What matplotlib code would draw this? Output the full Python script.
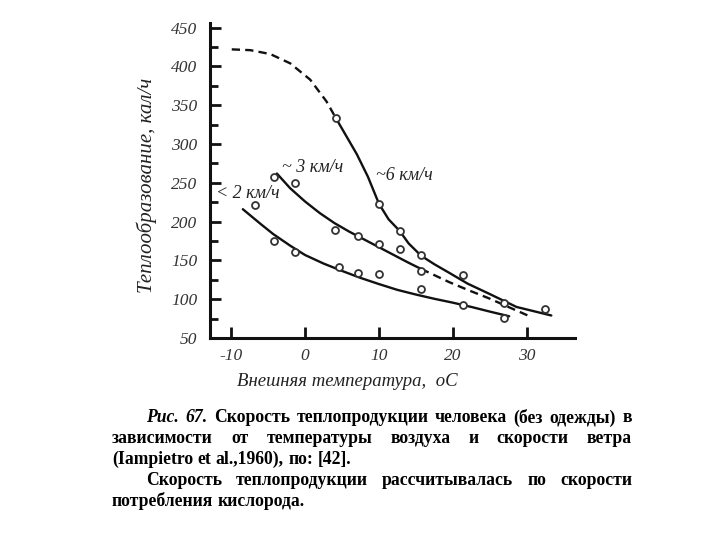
import matplotlib
matplotlib.use('Agg')
import matplotlib.pyplot as plt
from matplotlib.ticker import MultipleLocator

plt.rcParams['axes.unicode_minus'] = False

# ---------------- data ----------------
# measured points (open circles)
pts_x = [-6.8, -4.2, -4.2, -1.3, -1.3, 4.1, 4.6, 7.1, 7.1, 10.0, 10.0, 10.0,
         12.8, 12.8, 15.7, 15.7, 15.7, 21.3, 21.4, 26.9, 26.9, 32.4, 4.2]
pts_y = [222, 257, 175, 250, 161, 189, 142, 181, 134, 223, 171, 132,
         188, 165, 157, 136, 113, 131, 93, 95, 76, 87, 333]

# curve "< 2 км/ч" (solid)
c2_x = [-8.4, -6, -4.3, -2, 0, 2.5, 5, 7.5, 10, 12.5, 15, 17.5, 20, 22.5, 25, 27.6]
c2_y = [216, 197, 184, 169, 157, 146, 136.5, 127.5, 119.5, 112, 106, 100.5, 95.5, 90, 84, 78]

# curve "~ 3 км/ч" (solid part, then dashed part)
c3s_x = [-3.8, -2, 0, 2, 4, 6, 8, 10, 12, 14, 15.7]
c3s_y = [262, 243, 226, 211, 198, 187, 177, 167, 157, 147, 139]
c3d_x = [15.7, 19.5, 22, 24.9, 27.5, 30.6]
c3d_y = [139, 122, 112, 101, 90, 77]

# curve "~6 км/ч" (dashed part, then solid part)
c6d_x = [-9.9, -7.4, -4.7, -2.0, 0.7, 2.9, 4.2]
c6d_y = [422, 421, 416, 404, 383, 355, 333]
c6s_x = [4.2, 5.6, 7, 8.5, 10, 11.3, 12.8, 14, 15.7, 17.5, 19.5, 22, 24.9, 28.6, 33.3]
c6s_y = [333, 310, 287, 258, 223, 203, 188, 172, 156, 145, 134, 120, 107, 90, 79]

series_labels = ['< 2 км/ч', '~ 3 км/ч', '~6 км/ч']
label_pos_x = [-12.0, -3.1, 9.6]
label_pos_y = [236, 270, 260]

x_ticks = [-10, 0, 10, 20, 30]
y_ticks = [50, 100, 150, 200, 250, 300, 350, 400, 450]

x_label = 'Внешняя температура,  оС'
y_label = 'Теплообразование, кал/ч'

caption_lines = [
    [('Рис.', True), ('67.', True), ('Скорость', False), ('теплопродукции', False),
     ('человека', False), ('(без', False), ('одежды)', False), ('в', False)],
    [('зависимости', False), ('от', False), ('температуры', False), ('воздуха', False),
     ('и', False), ('скорости', False), ('ветра', False)],
    [('(Iampietro', False), ('et', False), ('al.,1960),', False), ('по:', False), ('[42].', False)],
    [('Скорость', False), ('теплопродукции', False), ('рассчитывалась', False),
     ('по', False), ('скорости', False)],
    [('потребления', False), ('кислорода.', False)],
]

# ---------------- drawing ----------------
W, H = 720, 540
fig = plt.figure(figsize=(W / 100, H / 100), dpi=100)
fig.patch.set_facecolor('white')

ax_left, ax_right, ax_bottom, ax_top = 210, 575, 338, 23
ax = fig.add_axes([ax_left / W, 1 - ax_bottom / H,
                   (ax_right - ax_left) / W, (ax_bottom - ax_top) / H])
ax.set_xlim(-12.84, 36.5)
ax.set_ylim(50, 456)

ink = '#111111'
lw = 1.7
ax.plot(c2_x, c2_y, color=ink, lw=lw, solid_capstyle='round')
ax.plot(c3s_x, c3s_y, color=ink, lw=lw, solid_capstyle='round')
ax.plot(c3d_x, c3d_y, color=ink, lw=lw, linestyle=(0, (3.5, 2.2)))
ax.plot(c6d_x, c6d_y, color=ink, lw=lw, linestyle=(0, (3.5, 2.2)))
ax.plot(c6s_x, c6s_y, color=ink, lw=lw, solid_capstyle='round')
ax.plot(pts_x, pts_y, linestyle='none', marker='o', markersize=5,
        markerfacecolor='white', markeredgecolor='#333333', markeredgewidth=1.3,
        zorder=5)

serif = 'Liberation Serif'
for lab, lx, ly in zip(series_labels, label_pos_x, label_pos_y):
    ax.text(lx, ly, lab, fontsize=13, fontfamily=serif, fontstyle='italic',
            color='#222222', ha='left', va='center')

for side in ['top', 'right']:
    ax.spines[side].set_visible(False)
for side in ['left', 'bottom']:
    ax.spines[side].set_linewidth(2.2)
    ax.spines[side].set_color(ink)

ax.set_xticks(x_ticks)
ax.set_yticks(y_ticks)
ax.yaxis.set_minor_locator(MultipleLocator(25))
ax.tick_params(axis='both', which='major', direction='in', length=8, width=2,
               color=ink, labelsize=12.5, labelcolor='#333333', pad=7)
ax.tick_params(axis='y', which='minor', direction='in', length=6, width=2, color=ink)
ax.tick_params(axis='y', which='major', pad=9)
for t in ax.get_xticklabels() + ax.get_yticklabels():
    t.set_fontfamily(serif)
    t.set_fontstyle('italic')

fig.text(347 / W, 1 - 382 / H, x_label, fontsize=13.5, fontfamily=serif,
         fontstyle='italic', color='#222222', ha='center', va='center')
fig.text(147 / W, 1 - 185 / H, y_label, fontsize=15, fontfamily=serif,
         fontstyle='italic', color='#222222', ha='center', va='center',
         rotation=90)

# ---------------- justified caption ----------------
cap_size = 12.7
renderer = fig.canvas.get_renderer()
left_px, right_px, indent_px = 112, 632, 146
baselines = [422.5, 443, 464, 485, 505.5]
justify = [True, True, False, True, False]
indented = [True, False, False, True, False]
space_px = cap_size * 100 / 72 * 0.25

for words, base, just, ind in zip(caption_lines, baselines, justify, indented):
    objs = []
    for w, it in words:
        t = fig.text(0, 1 - base / H, w, fontsize=cap_size, fontfamily=serif,
                     fontweight='bold', fontstyle='italic' if it else 'normal',
                     color='black', ha='left', va='baseline')
        objs.append(t)
    widths = [o.get_window_extent(renderer).width for o in objs]
    x0 = indent_px if ind else left_px
    if just and len(objs) > 1:
        gap = (right_px - x0 - sum(widths)) / (len(objs) - 1)
    else:
        gap = space_px
    x = x0
    for o, wdt in zip(objs, widths):
        o.set_x(x / W)
        x += wdt + gap

fig.savefig('out.png', dpi=100, facecolor='white')
